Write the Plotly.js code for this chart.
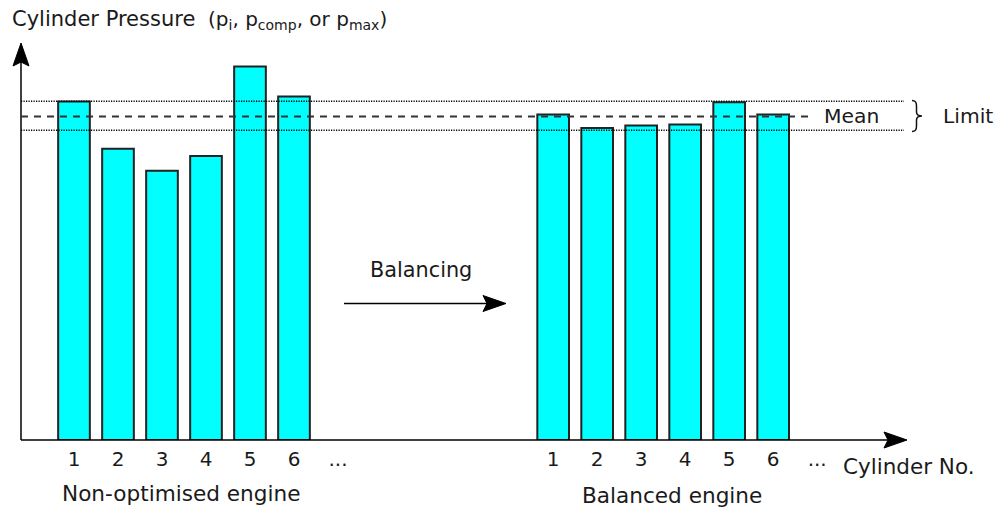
<!DOCTYPE html>
<html><head><meta charset="utf-8">
<script src="https://cdn.plot.ly/plotly-3.0.1.min.js"></script>
<style>html,body{margin:0;padding:0;background:#fff}#chart{width:998px;height:507px}</style>
</head><body><div id="chart"></div>
<script>
// ---- data ----
const cylinders = ['1', '2', '3', '4', '5', '6'];
const moreLabel = '...';
const nonOptimised = [104.6, 90.0, 83.2, 87.8, 115.4, 106.2];
const balanced = [100.6, 96.4, 97.2, 97.5, 104.4, 100.6];
const meanValue = 100;
const upperLimit = 104.7;
const lowerLimit = 95.7;
const groupNames = ['Non-optimised engine', 'Balanced engine'];
const titleText = '<span style="font-size:21px">Cylinder Pressure</span>&nbsp;&nbsp;(p<sub>i</sub>, p<sub>comp</sub>, or p<sub>max</sub>)';

// ---- layout constants ----
const W = 998, H = 507, ML = 21, MR = 92, MT = 43, MB = 67;
const PW = W - ML - MR, PH = H - MT - MB;
const slotPx = 44;
const xStart = 1 - (74 - ML) / slotPx;
const xEnd = xStart + PW / slotPx;
const yMax = 122.7;
const groupOffset = 10.89;
const slots = cylinders.map((c, i) => i + 1);
const leftX = slots;
const rightX = slots.map(s => s + groupOffset);
const moreSlot = cylinders.length + 1;

const px2X = px => (px - ML) / PW;        // pixel -> paper x
const py2Y = py => (H - MB - py) / PH;    // pixel -> paper y

const txt = '#1a1a1a';
const fontFam = 'DejaVu Sans, Verdana, sans-serif';
const FS = 20;

const barStyle = {color: '#00FFFF', line: {color: '#222222', width: 2}};
const traces = [
  {type: 'bar', x: leftX, y: nonOptimised, width: 0.72, marker: barStyle, hoverinfo: 'skip'},
  {type: 'bar', x: rightX, y: balanced, width: 0.72, marker: barStyle, hoverinfo: 'skip'}
];

const tickvals = leftX.concat([moreSlot], rightX, [moreSlot + groupOffset]);
const ticktext = cylinders.concat([moreLabel], cylinders, [moreLabel]);

function head(px, py, path) {
  return {type: 'path', xref: 'paper', yref: 'paper', xsizemode: 'pixel', ysizemode: 'pixel',
    xanchor: px2X(px), yanchor: py2Y(py), path: path,
    fillcolor: '#000', line: {color: '#000', width: 1}};
}
const upHead = 'M0,0 L-8,-23 L0,-19 L8,-23 Z';
const rightHead = 'M0,0 L-23,8 L-19,0 L-23,-8 Z';

const dotLine = {color: '#000', width: 1.5, dash: '1.2px,1.3px'};
const shapes = [
  // y axis
  {type: 'line', xref: 'paper', yref: 'paper', x0: 0, x1: 0, y0: 0, y1: py2Y(62), line: {color: '#000', width: 1.5}},
  head(21, 43, upHead),
  // x axis
  {type: 'line', xref: 'paper', yref: 'paper', x0: 0, x1: px2X(888), y0: 0, y1: 0, line: {color: '#000', width: 1.5}},
  head(907, 440, rightHead),
  // limits
  {type: 'line', xref: 'paper', yref: 'y', x0: 0, x1: px2X(904), y0: upperLimit, y1: upperLimit, line: dotLine},
  {type: 'line', xref: 'paper', yref: 'y', x0: 0, x1: px2X(904), y0: lowerLimit, y1: lowerLimit, line: dotLine},
  // mean
  {type: 'line', xref: 'paper', yref: 'y', x0: 0, x1: px2X(812), y0: meanValue, y1: meanValue, line: {color: '#333', width: 2, dash: '7px,6px'}},
  // balancing arrow
  {type: 'line', xref: 'paper', yref: 'paper', x0: px2X(344), x1: px2X(490), y0: py2Y(303.5), y1: py2Y(303.5), line: {color: '#000', width: 1.5}},
  head(506, 303.5, rightHead),
  // brace
  {type: 'path', xref: 'paper', yref: 'paper', xsizemode: 'pixel', ysizemode: 'pixel',
    xanchor: px2X(912), yanchor: py2Y(116),
    path: 'M0,15.5 C3.5,15.5 4.5,14 4.5,10 L4.5,4 C4.5,1.5 6,0 10,0 C6,0 4.5,-1.5 4.5,-4 L4.5,-10 C4.5,-14 3.5,-15.5 0,-15.5',
    line: {color: '#111', width: 1.5}}
];

function ann(text, px, py, xanchor, size) {
  return {text: text, xref: 'paper', yref: 'paper', x: px2X(px), y: py2Y(py),
    xanchor: xanchor || 'center', yanchor: 'middle', showarrow: false,
    font: {family: fontFam, size: size || FS, color: txt}};
}
const annotations = [
  ann('Mean', 822, 116, 'left', 20.3),
  ann('Limit', 941, 116, 'left', 20.3),
  ann('Balancing', 421, 270, 'center', 20.8),
  ann('Cylinder No.', 841, 467, 'left', 21.5),
  ann(groupNames[0], 181, 493, 'center', 21.6),
  ann(groupNames[1], 672, 495, 'center', 21.6)
];

const layout = {
  width: W, height: H,
  margin: {l: ML, r: MR, t: MT, b: MB, pad: 0},
  paper_bgcolor: '#fff', plot_bgcolor: '#fff',
  showlegend: false,
  barmode: 'overlay',
  font: {family: fontFam, size: FS, color: txt},
  title: {text: titleText, xref: 'container', yref: 'container', x: 12 / W, xanchor: 'left',
    y: 1 - 19 / H, yanchor: 'middle', font: {family: fontFam, size: FS, color: txt}},
  xaxis: {range: [xStart, xEnd], showgrid: false, zeroline: false, showline: false, ticks: '',
    tickmode: 'array', tickvals: tickvals, ticktext: ticktext, ticklabelstandoff: 5,
    tickfont: {family: fontFam, size: FS, color: txt}, fixedrange: true},
  yaxis: {range: [0, yMax], showgrid: false, zeroline: false, showline: false, showticklabels: false, ticks: '', fixedrange: true},
  shapes: shapes,
  annotations: annotations
};

Plotly.newPlot('chart', traces, layout, {displayModeBar: false, staticPlot: true});
</script>
</body></html>
